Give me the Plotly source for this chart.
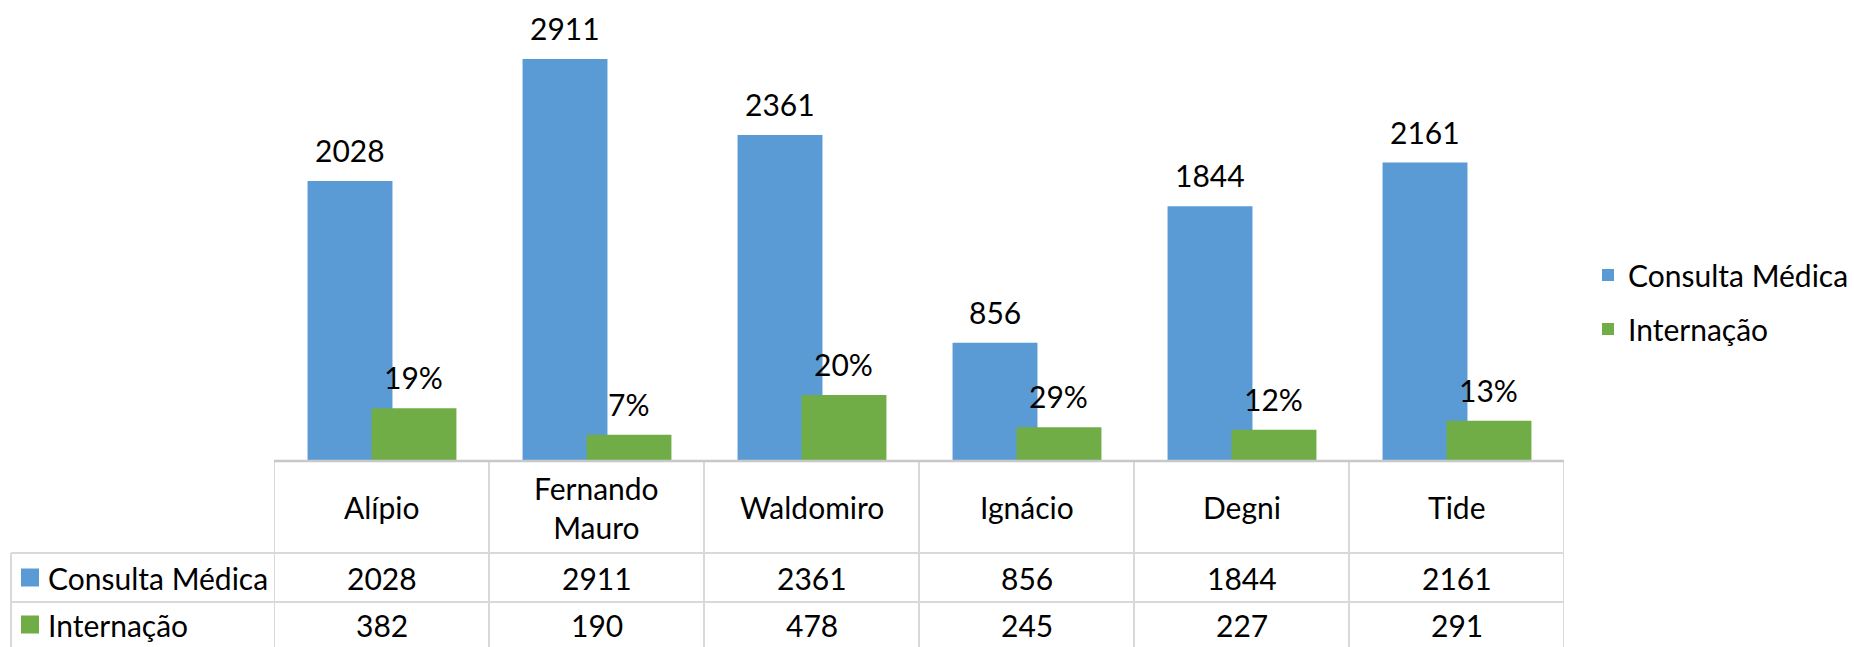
import plotly.graph_objects as go

categories = ["Alípio", "Fernando<br>Mauro", "Waldomiro", "Ignácio", "Degni", "Tide"]
consulta = [2028, 2911, 2361, 856, 1844, 2161]
internacao = [382, 190, 478, 245, 227, 291]
internacao_labels = ["19%", "7%", "20%", "29%", "12%", "13%"]
series_names = ["Consulta Médica", "Internação"]
colors = ["#5B9BD5", "#70AD47"]

W, H = 1854, 647
FONT = "Lato"
FS = 30
xs = list(range(len(categories)))

def px(x):
    return x / W

def py(y):
    return (H - y) / H

BAR_W = 0.395
OFFS = [-0.344, -0.0465]

fig = go.Figure()
for name, vals, col, off in zip(series_names, [consulta, internacao], colors, OFFS):
    fig.add_trace(go.Bar(
        x=xs, y=vals, name=name, width=BAR_W, offset=off,
        marker=dict(color=col, line=dict(width=0)),
        legendgroup=name, hoverinfo="y",
    ))

annotations = []
# data labels
for i in xs:
    annotations.append(dict(x=i + OFFS[0] + BAR_W / 2, y=consulta[i], xref="x", yref="y",
                            text=str(consulta[i]), showarrow=False, yanchor="middle", yshift=31,
                            font=dict(family=FONT, size=FS, color="#000")))
    annotations.append(dict(x=i + OFFS[1] + BAR_W / 2, y=internacao[i], xref="x", yref="y",
                            text=internacao_labels[i], showarrow=False, yanchor="middle", yshift=31,
                            font=dict(family=FONT, size=FS, color="#000")))

# table geometry (pixels)
base_y, row1_y, row2_y = 461, 553, 602
head_c = (base_y + row1_y) / 2
r1_c = (row1_y + row2_y) / 2
r2_c = row2_y + (row2_y - row1_y) / 2 - 2
left_x, plot_l, plot_r = 11, 274, 1564

shapes = []
line_col = "#D9D9D9"
for k in range(len(categories) + 1):
    shapes.append(dict(type="line", xref="x", yref="paper", x0=k - 0.5, x1=k - 0.5,
                       y0=py(base_y), y1=-0.05, line=dict(color=line_col, width=2)))
for yy in (row1_y, row2_y):
    shapes.append(dict(type="line", xref="paper", yref="paper", x0=px(left_x), x1=px(plot_r),
                       y0=py(yy), y1=py(yy), line=dict(color=line_col, width=2)))
shapes.append(dict(type="line", xref="paper", yref="paper", x0=px(left_x), x1=px(left_x),
                   y0=py(row1_y), y1=-0.05, line=dict(color=line_col, width=2)))
shapes.append(dict(type="line", xref="paper", yref="paper", x0=px(plot_l), x1=px(plot_r),
                   y0=py(base_y), y1=py(base_y), line=dict(color="#C8C8C8", width=2.5)))

# table header & values
for i in xs:
    annotations.append(dict(x=i, y=py(head_c), xref="x", yref="paper", text=categories[i],
                            showarrow=False, yanchor="middle",
                            font=dict(family=FONT, size=FS, color="#000")))
    annotations.append(dict(x=i, y=py(r1_c), xref="x", yref="paper", text=str(consulta[i]),
                            showarrow=False, yanchor="middle",
                            font=dict(family=FONT, size=FS, color="#000")))
    annotations.append(dict(x=i, y=py(r2_c), xref="x", yref="paper", text=str(internacao[i]),
                            showarrow=False, yanchor="middle",
                            font=dict(family=FONT, size=FS, color="#000")))

# row headers with keys
for name, col, cy in zip(series_names, colors, [r1_c, r2_c]):
    shapes.append(dict(type="rect", xref="paper", yref="paper", x0=px(21), x1=px(39),
                       y0=py(cy - 9), y1=py(cy + 9), fillcolor=col, line=dict(width=0)))
    annotations.append(dict(x=px(46), y=py(cy), xref="paper", yref="paper", text=name,
                            showarrow=False, xanchor="left", yanchor="middle",
                            font=dict(family=FONT, size=FS, color="#000")))

fig.update_layout(
    width=W, height=H,
    margin=dict(l=0, r=0, t=0, b=0),
    paper_bgcolor="white", plot_bgcolor="white",
    barmode="overlay",
    font=dict(family=FONT, size=FS, color="#000"),
    xaxis=dict(domain=[px(plot_l), px(plot_r)], range=[-0.5, len(categories) - 0.5],
               showticklabels=False, showgrid=False, zeroline=False, showline=False),
    yaxis=dict(domain=[py(base_y), 1], range=[0, 3338],
               showticklabels=False, showgrid=False, zeroline=False, showline=False),
    legend=dict(x=px(1588), y=py(302), xanchor="left", yanchor="middle",
                font=dict(family=FONT, size=FS, color="#000"),
                traceorder="grouped", tracegroupgap=12, bgcolor="rgba(0,0,0,0)"),
    shapes=shapes,
    annotations=annotations,
)

fig.write_html("out.html", config={"displayModeBar": False},
               post_script="document.body.style.margin='0';document.body.style.overflow='hidden';")
